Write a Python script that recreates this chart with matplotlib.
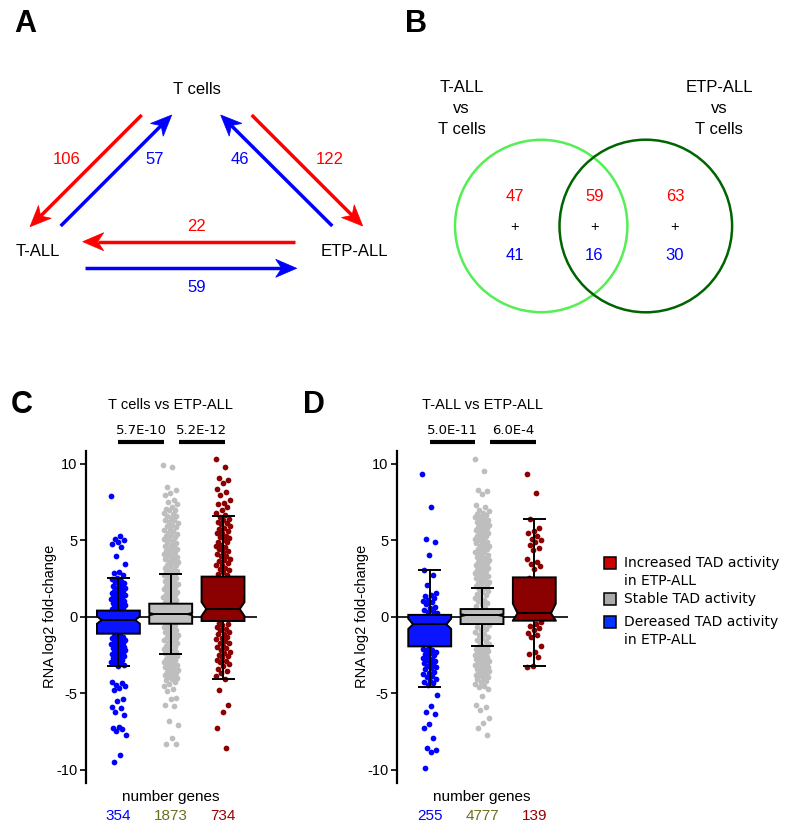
import numpy as np
import matplotlib
matplotlib.use('Agg')
import matplotlib.pyplot as plt
import matplotlib.transforms as mtransforms
from matplotlib.patches import Polygon, Circle, Rectangle

ARIAL = 'Liberation Sans'
VERD = 'DejaVu Sans'

# ---- panel A: TAD activity changes between cell types ----
a_red = [106, 122, 22]    # T cells->T-ALL, T cells->ETP-ALL, ETP-ALL->T-ALL
a_blue = [57, 46, 59]     # T-ALL->T cells, ETP-ALL->T cells, T-ALL->ETP-ALL

# ---- panel B: venn ----
venn_sets = ['T-ALL\nvs\nT cells', 'ETP-ALL\nvs\nT cells']
venn_red = [47, 59, 63]
venn_blue = [41, 16, 30]

# ---- panels C/D: RNA log2 fold-change per group ----
groups = ['Increased TAD activity\nin ETP-ALL', 'Stable TAD activity',
          'Dereased TAD activity\nin ETP-ALL']
titles = ['T cells vs ETP-ALL', 'T-ALL vs ETP-ALL']
pvals_C = ['5.7E-10', '5.2E-12']
pvals_D = ['5.0E-11', '6.0E-4']
counts_C = [354, 1873, 734]
counts_D = [255, 4777, 139]

# box stats: q1, med, q3, notch low, notch high, whisker low, whisker high
box_C = [
    dict(q1=-1.11, med=-0.22, q3=0.40, cilo=-0.46, cihi=0.02, wlo=-3.20, whi=2.55),
    dict(q1=-0.46, med=0.17, q3=0.85, cilo=0.10, cihi=0.24, wlo=-2.42, whi=2.81),
    dict(q1=-0.28, med=0.50, q3=2.62, cilo=0.05, cihi=0.95, wlo=-4.08, whi=6.57),
]
box_D = [
    dict(q1=-1.94, med=-0.50, q3=0.12, cilo=-0.80, cihi=-0.13, wlo=-4.60, whi=3.03),
    dict(q1=-0.48, med=0.10, q3=0.50, cilo=0.03, cihi=0.17, wlo=-1.90, whi=1.90),
    dict(q1=-0.26, med=0.22, q3=2.57, cilo=-0.25, cihi=0.85, wlo=-3.25, whi=6.40),
]

C_blue = [7.9, 5.25, 5.1, 5.0, 4.9, 4.75, 4.55, 3.95, 3.45, 2.95, 2.85, 2.7,
          2.5, 2.45, 2.35, 2.25, 2.2, 2.1, 2.0, 1.95, 1.9, 1.85, 1.75, 1.7, 1.65,
          1.6, 1.55, 1.5, 1.45, 1.4, 1.35, 1.3, 1.25, 1.2, 1.15, 1.1, 1.05, 1.0,
          0.95, 0.9, 0.85, 0.8, 0.75, 0.7, 0.65, 0.6, 0.55, 0.5, 0.45,
          0.3, 0.1, -0.1, -0.3, -0.5, -0.7, -0.9,
          -1.2, -1.25, -1.3, -1.35, -1.4, -1.45, -1.5, -1.55, -1.6, -1.65, -1.7,
          -1.75, -1.8, -1.85, -1.9, -1.95, -2.0, -2.05, -2.1, -2.15, -2.2, -2.25,
          -2.3, -2.35, -2.4, -2.45, -2.5, -2.55, -2.6, -2.65, -2.7, -2.8, -2.85,
          -2.95, -3.0, -3.05, -3.15, -3.2,
          -4.3, -4.35, -4.45, -4.55, -4.65, -4.8, -5.35, -5.5, -5.9, -5.95,
          -6.2, -6.45, -7.2, -7.25, -7.35, -7.5, -7.75, -9.05, -9.5]
C_gray = [9.9, 9.8, 8.5, 8.25, 8.1, 7.95, 7.6, 7.5, 7.35, 7.2, 7.05, 7.0, 6.95,
          6.8, 6.7, 6.6, 6.55, 6.45, 6.35, 6.3, 6.2, 6.1, 6.0, 5.95, 5.85, 5.75,
          5.65, 5.6, 5.5, 5.4, 5.35, 5.3, 5.2, 5.1, 5.05, 4.95, 4.85, 4.8, 4.7,
          4.6, 4.55, 4.5, 4.4, 4.35, 4.3, 4.2, 4.15, 4.1, 4.0, 3.95, 3.9, 3.8,
          3.75, 3.7, 3.6, 3.55, 3.5, 3.4, 3.35, 3.3, 3.2, 3.15, 3.1, 3.0, 2.95,
          2.9, 2.8, 2.75, 2.7, 2.6, 2.55, 2.5, 2.4, 2.35, 2.3, 2.2, 2.15, 2.1,
          2.0, 1.95, 1.9, 1.8, 1.75, 1.7, 1.6, 1.55, 1.5, 1.4, 1.35, 1.3, 1.2,
          1.15, 1.1, 1.0, 0.95, 0.9, 0.5, 0.0, -0.3,
          -0.5, -0.55, -0.6, -0.7, -0.75, -0.8, -0.9, -0.95, -1.0, -1.1, -1.15,
          -1.2, -1.3, -1.35, -1.4, -1.5, -1.55, -1.6, -1.7, -1.75, -1.8, -1.9,
          -1.95, -2.0, -2.1, -2.15, -2.2, -2.3, -2.35, -2.4, -2.5, -2.55, -2.6,
          -2.7, -2.75, -2.8, -2.9, -2.95, -3.0, -3.1, -3.15, -3.2, -3.3, -3.35,
          -3.4, -3.5, -3.55, -3.6, -3.7, -3.75, -3.8, -3.9, -3.95, -4.0, -4.1,
          -4.15, -4.25, -4.4, -4.55, -4.7, -4.85,
          -5.3, -5.35, -5.8, -5.85, -6.8, -7.1, -7.9, -8.3, -8.35]
C_red = [10.3, 9.8, 9.05, 8.95, 8.75, 8.35, 8.15, 7.95, 7.65, 7.45, 7.35, 7.15,
         6.95, 6.8, 6.65, 6.5, 6.4, 6.35, 6.2, 6.1, 6.05, 5.9, 5.8, 5.75, 5.6,
         5.5, 5.45, 5.3, 5.2, 5.15, 5.0, 4.9, 4.85, 4.7, 4.6, 4.55, 4.4, 4.3,
         4.25, 4.1, 4.0, 3.95, 3.8, 3.7, 3.65, 3.5, 3.4, 3.35, 3.2, 3.1, 3.05,
         2.9, 2.8, 2.75, 2.0, 1.0, 0.0,
         -0.4, -0.5, -0.55, -0.7, -0.8, -0.85, -1.0, -1.1, -1.15, -1.3, -1.4,
         -1.45, -1.6, -1.7, -1.75, -1.9, -2.0, -2.05, -2.2, -2.3, -2.35, -2.5,
         -2.6, -2.65, -2.8, -2.9, -2.95, -3.1, -3.25, -3.4, -3.55, -3.7, -3.9,
         -4.05, -4.8, -5.75, -6.25, -7.3, -8.6]

D_blue = [9.3, 7.2, 5.05, 4.9, 4.05, 3.05, 2.7, 2.05, 1.55, 1.45, 1.35, 1.2,
          1.1, 1.05, 0.95, 0.8, 0.65, 0.55, 0.45, 0.35, 0.3, 0.25,
          -0.5, -1.0, -1.5,
          -2.0, -2.1, -2.15, -2.2, -2.3, -2.4, -2.45, -2.5, -2.6, -2.7, -2.75,
          -2.8, -2.9, -3.0, -3.05, -3.1, -3.2, -3.3, -3.35, -3.45, -3.6, -3.65,
          -3.75, -3.9, -3.95, -4.05, -4.2, -4.25, -4.35, -4.45,
          -5.15, -5.85, -6.25, -6.35, -7.0, -7.3, -7.9, -8.6, -8.7, -8.85, -9.9]
D_gray = [10.3, 9.55, 8.3, 8.2, 8.05, 7.3, 7.15, 7.0, 6.9, 6.8, 6.7, 6.65, 6.6,
          6.5, 6.45, 6.4, 6.3, 6.25, 6.2, 6.1, 6.05, 6.0, 5.9, 5.85, 5.8, 5.7,
          5.65, 5.6, 5.5, 5.45, 5.4, 5.3, 5.25, 5.2, 5.1, 5.05, 5.0, 4.9, 4.85,
          4.8, 4.7, 4.65, 4.6, 4.5, 4.45, 4.4, 4.3, 4.25, 4.2, 4.1, 4.05, 4.0,
          3.9, 3.85, 3.8, 3.7, 3.65, 3.6, 3.5, 3.45, 3.4, 3.3, 3.25, 3.2, 3.1,
          3.05, 3.0, 2.9, 2.85, 2.8, 2.7, 2.65, 2.6, 2.5, 2.45, 2.4, 2.3, 2.25,
          2.2, 2.1, 2.05, 2.0, 1.9, 1.8, 1.7, 1.6, 1.5, 1.4, 1.3, 1.2, 1.1, 1.0,
          0.9, 0.8, 0.7, 0.6, 0.0,
          -0.55, -0.6, -0.7, -0.8, -0.9, -1.0, -1.1, -1.2, -1.3, -1.4, -1.5,
          -1.6, -1.7, -1.8, -1.9, -1.95, -2.0, -2.05, -2.1, -2.15, -2.2, -2.25,
          -2.3, -2.35, -2.4, -2.45, -2.5, -2.55, -2.6, -2.65, -2.7, -2.75, -2.8,
          -2.85, -2.9, -2.95, -3.0, -3.05, -3.1, -3.15, -3.2, -3.25, -3.3, -3.35,
          -3.4, -3.45, -3.5, -3.55, -3.6, -3.65, -3.7, -3.75, -3.8, -3.85, -3.9,
          -3.95, -4.0, -4.1, -4.2, -4.3, -4.4, -4.5, -4.6, -4.7,
          -5.2, -5.8, -5.9, -6.1, -6.65, -6.95, -7.3, -7.75]
D_red = [9.3, 8.1, 6.4, 5.8, 5.6, 5.5, 5.3, 5.1, 5.0, 4.85, 4.7, 4.5, 4.35,
         3.8, 3.6, 3.45, 3.3, 3.15, 2.55, 1.5, 0.5,
         -0.35, -0.5, -0.6, -0.75, -0.9, -1.05, -1.2, -1.3, -1.9, -2.3, -2.45,
         -2.65, -3.2, -3.3]

dot_colors = ['#0000FF', '#BEBEBE', '#8B0000']
box_colors = ['#0A14FF', '#C0C0C0', '#8B0000']
count_colors = ['#0000FF', '#6E6E1E', '#990000']
legend_colors = ['#CC0000', '#AAAAAA', '#0033FF']

fig = plt.figure(figsize=(8, 8.32), dpi=100)

# overlay in pixel coordinates for diagrams and labels
ov = fig.add_axes([0, 0, 1, 1])
ov.set_xlim(0, 800)
ov.set_ylim(832, 0)
ov.axis('off')


def txt(x, y, s, size=11.5, color='black', family=ARIAL, **kw):
    ov.text(x, y, s, fontsize=size, color=color, family=family,
            ha=kw.pop('ha', 'center'), va=kw.pop('va', 'center'), **kw)


def arrow(x0, y0, x1, y1, color):
    u = np.array([x1 - x0, y1 - y0], dtype=float)
    u /= np.hypot(*u)
    n = np.array([-u[1], u[0]])
    tip = np.array([x1, y1])
    hl, hw, notch = 21, 9, 6
    base = tip - hl * u
    inner = tip - (hl - notch) * u
    ov.plot([x0, inner[0]], [y0, inner[1]], color=color, lw=2.5,
            solid_capstyle='butt')
    ov.add_patch(Polygon([tip, base + hw * n, inner, base - hw * n],
                         closed=True, fc=color, ec=color, lw=0.5))


# panel letters
for lab, (x, y) in zip('ABCD', [(25, 24), (416, 24), (22, 405), (314, 405)]):
    txt(x, y, lab, size=22, fontweight='bold')

# ---- A ----
txt(196.7, 89.3, 'T cells', size=12)
txt(37.7, 251.7, 'T-ALL', size=12)
txt(354.3, 251.7, 'ETP-ALL', size=12)

arrow(141.7, 115, 30, 226.7, '#FF0000')
arrow(251.7, 115, 362.7, 226, '#FF0000')
arrow(295, 241.7, 82.7, 241.7, '#FF0000')
arrow(60.7, 226, 171.7, 115, '#0000FF')
arrow(332.3, 226, 220.7, 115, '#0000FF')
arrow(85, 268.3, 296.7, 268.3, '#0000FF')

for v, (x, y) in zip(a_red, [(66.7, 159.3), (330, 159.3), (196, 226.7)]):
    txt(x, y, str(v), color='#FF0000', size=12)
for v, (x, y) in zip(a_blue, [(155, 159.3), (240, 159.3), (196.7, 287.3)]):
    txt(x, y, str(v), color='#0000FF', size=12)

# ---- B ----
for lab, x in zip(venn_sets, [461.7, 719.3]):
    for k, line in enumerate(lab.split('\n')):
        txt(x, 87.3 + 21 * k, line, size=12)
ov.add_patch(Circle((541.2, 226), 86.2, fill=False, ec='#55EE55', lw=1.8))
ov.add_patch(Circle((645.8, 226), 86.3, fill=False, ec='#006400', lw=1.8))
for r, b, x in zip(venn_red, venn_blue, [515, 594.5, 675]):
    txt(x, 196.7, str(r), color='#FF0000', size=12)
    txt(x, 226.7, '+', size=10.5)
    txt(x, 256, str(b), color='#0000FF', size=12)

# ---- C / D ----
ax_w = 171 / 800
axC = fig.add_axes([86 / 800, 1 - 782.7 / 832, ax_w, 332 / 832])
axD = fig.add_axes([397.3 / 800, 1 - 782.7 / 832, ax_w, 332 / 832])

panels = [
    (axC, [C_blue, C_gray, C_red], box_C, pvals_C, counts_C, titles[0], 50),
    (axD, [D_blue, D_gray, D_red], box_D, pvals_D, counts_D, titles[1], 361.7),
]
positions = [1, 2, 3]
half = 0.41
notch_in = 0.09
jit = 0.14

for ax, vals, stats, pv, counts, title, ylab_x in panels:
    ax.set_xlim(0.38, 3.65)
    ax.set_ylim(-10.85, 10.85)
    ax.patch.set_alpha(0)
    for s in ['top', 'right', 'bottom']:
        ax.spines[s].set_visible(False)
    ax.spines['left'].set_linewidth(1.6)
    ax.set_xticks([])
    ax.set_yticks([-10, -5, 0, 5, 10])
    ax.set_yticklabels(['-10', '-5', '0', '5', '10'], family=ARIAL, fontsize=10.5)
    ax.tick_params(axis='y', direction='out', length=4.3, width=1.2, pad=2)
    ax.axhline(0, color='black', lw=1.2, zorder=1.5)

    for pos, v, dc in zip(positions, vals, dot_colors):
        v = np.asarray(v)
        idx = np.arange(len(v))
        xs = pos + jit * (((idx * 0.6180339887) % 1.0) * 2 - 1)
        ax.scatter(xs, v, s=17, color=dc, linewidths=0, zorder=2)

    for pos, st, bc in zip(positions, stats, box_colors):
        l, r = pos - half, pos + half
        verts = [(l, st['q1']), (l, st['cilo']), (l + notch_in, st['med']),
                 (l, st['cihi']), (l, st['q3']), (r, st['q3']),
                 (r, st['cihi']), (r - notch_in, st['med']), (r, st['cilo']),
                 (r, st['q1'])]
        ax.plot([pos, pos], [st['q3'], st['whi']], color='black', lw=1.4, zorder=3)
        ax.plot([pos, pos], [st['q1'], st['wlo']], color='black', lw=1.4, zorder=3)
        for w in (st['whi'], st['wlo']):
            ax.plot([pos - 0.22, pos + 0.22], [w, w], color='black', lw=1.4,
                    zorder=3, solid_capstyle='butt')
        ax.add_patch(Polygon(verts, closed=True, fc=bc, ec='black', lw=1.4,
                             zorder=4, joinstyle='miter'))
        ax.plot([l + notch_in, r - notch_in], [st['med'], st['med']],
                color='black', lw=1.4, zorder=5)

    trans = mtransforms.blended_transform_factory(ax.transData, ax.transAxes)
    for (x0, x1), p in zip([(1.0, 1.87), (2.15, 3.03)], pv):
        ax.plot([x0, x1], [1.027, 1.027], color='black', lw=3,
                solid_capstyle='butt', transform=trans, clip_on=False)
        ax.text((x0 + x1) / 2, 1.06, p, transform=trans, ha='center',
                va='center', family=VERD, fontsize=9.5)
    ax.text(2, 1.137, title, transform=trans, ha='center', va='center',
            family=ARIAL, fontsize=10.5)
    ax.text(2, -0.042, 'number genes', transform=trans, ha='center',
            va='center', family=ARIAL, fontsize=11)
    for pos, c, cc in zip(positions, counts, count_colors):
        ax.text(pos, -0.099, str(c), transform=trans, ha='center', va='center',
                family=ARIAL, fontsize=11, color=cc)
    txt(ylab_x, 616.7, 'RNA log2 fold-change', size=10.5, rotation=90)

# legend
for k, (lab, col) in enumerate(zip(groups, legend_colors)):
    y = [563.3, 599, 621.7][k]
    ov.add_patch(Rectangle((603.5, y - 6), 12, 12, fc=col, ec='black', lw=1.1))
    for j, line in enumerate(lab.split('\n')):
        txt(624.3, y + 18 * j, line, size=10, family=VERD, ha='left')

fig.savefig('out.png', dpi=100)
